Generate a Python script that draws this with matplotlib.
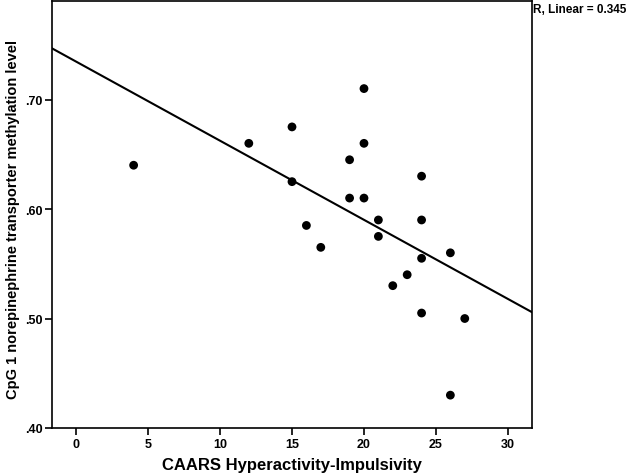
import numpy as np
import matplotlib
matplotlib.use("Agg")
import matplotlib.pyplot as plt

caars = [4, 12, 15, 15, 16, 17, 19, 19, 20, 20, 20, 21, 21, 22, 23, 24, 24, 24, 24, 26, 26, 27]
methylation = [0.640, 0.660, 0.675, 0.625, 0.585, 0.565, 0.645, 0.610, 0.710, 0.660, 0.610,
               0.590, 0.575, 0.530, 0.540, 0.630, 0.590, 0.555, 0.505, 0.560, 0.430, 0.500]
x_ticks = [0, 5, 10, 15, 20, 25, 30]
y_ticks = [0.40, 0.50, 0.60, 0.70]
y_tick_labels = [".40", ".50", ".60", ".70"]
r2_text = "R, Linear = 0.345"

plt.rcParams['font.family'] = ['Liberation Sans', 'DejaVu Sans']

fig = plt.figure(figsize=(6.3, 4.77), dpi=100)
ax = fig.add_axes([52/630, 48/477, 480/630, 427/477])

xlim = (-1.67, 31.67)
ylim = (0.40, 0.790)

x = np.array(caars)
y = np.array(methylation)
slope, intercept = np.polyfit(x, y, 1)
xs = np.array(xlim)
ax.plot(xs, intercept + slope * xs, color='black', lw=1.5, zorder=2)
ax.scatter(x, y, s=40, color='black', zorder=3, edgecolors='none')

ax.set_xlim(*xlim)
ax.set_ylim(*ylim)
ax.set_xticks(x_ticks)
ax.set_xticklabels([str(t) for t in x_ticks], fontsize=9, fontweight='bold')
ax.set_yticks(y_ticks)
ax.set_yticklabels(y_tick_labels, fontsize=9, fontweight='bold')
ax.tick_params(direction='out', length=5, width=1.2, colors='black', pad=2)
for s in ax.spines.values():
    s.set_linewidth(1.2)

ax.set_xlabel("CAARS Hyperactivity-Impulsivity", fontsize=12, fontweight='bold', labelpad=5)
ax.set_ylabel("CpG 1 norepinephrine transporter methylation level", fontsize=10.5, fontweight='bold')
ax.yaxis.set_label_coords(-32/480, 0.49)

fig.text(533/630, 1 - 10/477, r2_text, fontsize=8.5, fontweight='bold', va='center', ha='left')

fig.savefig("out.png", dpi=100)
